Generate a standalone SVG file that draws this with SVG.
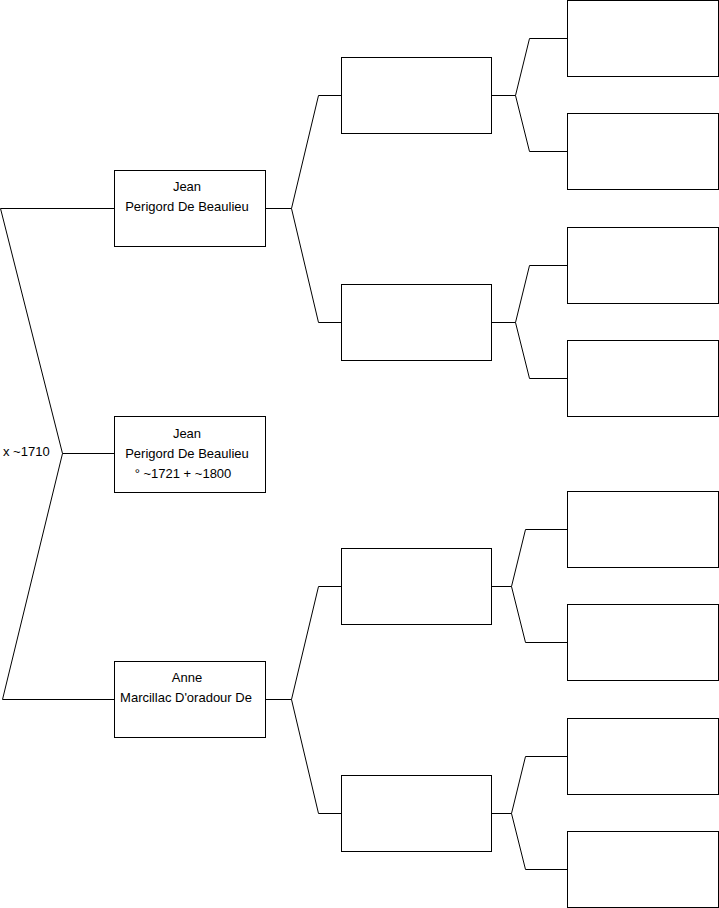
<svg xmlns="http://www.w3.org/2000/svg" width="719" height="908" viewBox="0 0 719 908">
<style>
.box{fill:#fff;stroke:#000;stroke-width:1}
.c{fill:none;stroke:#000;stroke-width:1}
text{font-family:"Liberation Sans",Arial,sans-serif;font-size:13px;fill:#000}
.m{text-anchor:middle}
</style>
<rect width="719" height="908" fill="#fff"/>
<g id="connectors">
<polyline class="c" points="114,208.5 0.5,208.5 62.5,453.5 2.5,699.5 114,699.5"/>
<line class="c" x1="62.5" y1="453.5" x2="114" y2="453.5"/>
<polyline class="c" points="341,95.5 318.5,95.5 291.5,208.5 318.5,322.5 341,322.5"/>
<line class="c" x1="265" y1="208.5" x2="291.5" y2="208.5"/>
<polyline class="c" points="341,586.5 318.5,586.5 291.5,699.5 318.5,813.5 341,813.5"/>
<line class="c" x1="265" y1="699.5" x2="291.5" y2="699.5"/>
<polyline class="c" points="567,38.5 529.5,38.5 515.5,95.5 529.5,151.5 567,151.5"/>
<line class="c" x1="492" y1="95.5" x2="515.5" y2="95.5"/>
<polyline class="c" points="567,265.5 529.5,265.5 515.5,322.5 529.5,378.5 567,378.5"/>
<line class="c" x1="492" y1="322.5" x2="515.5" y2="322.5"/>
<polyline class="c" points="567,529.5 525.5,529.5 511.5,586.5 525.5,642.5 567,642.5"/>
<line class="c" x1="492" y1="586.5" x2="511.5" y2="586.5"/>
<polyline class="c" points="567,756.5 525.5,756.5 511.5,813.5 525.5,869.5 567,869.5"/>
<line class="c" x1="492" y1="813.5" x2="511.5" y2="813.5"/>
<text x="3" y="456">x ~1710</text>
</g>
<g id="root"><rect class="box" x="114.5" y="416.5" width="151" height="76"/>
<text class="m" x="187" y="438">Jean</text><text class="m" x="187" y="458">Perigord De Beaulieu</text><text class="m" x="183" y="478">° ~1721 + ~1800</text></g>
<g id="father"><rect class="box" x="114.5" y="170.5" width="151" height="76"/>
<text class="m" x="187" y="191">Jean</text><text class="m" x="187" y="211">Perigord De Beaulieu</text></g>
<g id="mother"><rect class="box" x="114.5" y="661.5" width="151" height="76"/>
<text class="m" x="187" y="682">Anne</text><text class="m" x="186" y="702">Marcillac D'oradour De</text></g>
<g id="g2a"><rect class="box" x="341.5" y="57.5" width="150" height="76"/></g>
<g id="g2b"><rect class="box" x="341.5" y="284.5" width="150" height="76"/></g>
<g id="g2c"><rect class="box" x="341.5" y="548.5" width="150" height="76"/></g>
<g id="g2d"><rect class="box" x="341.5" y="775.5" width="150" height="76"/></g>
<g id="g3a"><rect class="box" x="567.5" y="0.5" width="151" height="76"/></g>
<g id="g3b"><rect class="box" x="567.5" y="113.5" width="151" height="76"/></g>
<g id="g3c"><rect class="box" x="567.5" y="227.5" width="151" height="76"/></g>
<g id="g3d"><rect class="box" x="567.5" y="340.5" width="151" height="76"/></g>
<g id="g3e"><rect class="box" x="567.5" y="491.5" width="151" height="76"/></g>
<g id="g3f"><rect class="box" x="567.5" y="604.5" width="151" height="76"/></g>
<g id="g3g"><rect class="box" x="567.5" y="718.5" width="151" height="76"/></g>
<g id="g3h"><rect class="box" x="567.5" y="831.5" width="151" height="76"/></g>
</svg>
